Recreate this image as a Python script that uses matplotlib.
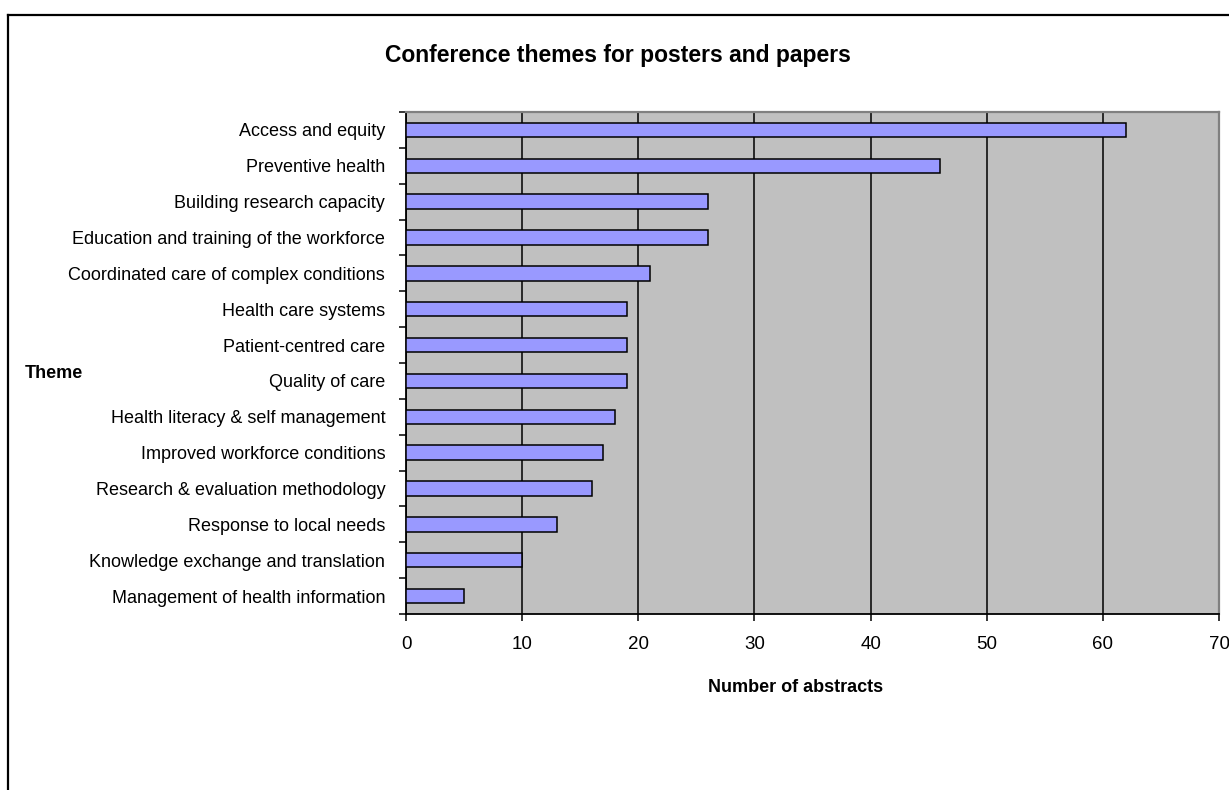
import matplotlib
matplotlib.use("Agg")
import matplotlib.pyplot as plt
from matplotlib.lines import Line2D

themes = [
    "Access and equity",
    "Preventive health",
    "Building research capacity",
    "Education and training of the workforce",
    "Coordinated care of complex conditions",
    "Health care systems",
    "Patient-centred care",
    "Quality of care",
    "Health literacy & self management",
    "Improved workforce conditions",
    "Research & evaluation methodology",
    "Response to local needs",
    "Knowledge exchange and translation",
    "Management of health information",
]
counts = [62, 46, 26, 26, 21, 19, 19, 19, 18, 17, 16, 13, 10, 5]
x_ticks = [0, 10, 20, 30, 40, 50, 60, 70]

fam = ["Liberation Sans Narrow", "Liberation Sans", "DejaVu Sans"]
plt.rcParams["font.family"] = fam

W, H = 1229, 790
fig = plt.figure(figsize=(W / 100, H / 100), dpi=100)
fig.patch.set_facecolor("white")

# plot area in pixels: x 406..1219, y 112..614
ax = fig.add_axes([406 / W, 1 - 614 / H, (1219 - 406) / W, (614 - 112) / H])
ax.set_facecolor("#C0C0C0")

n = len(themes)
ypos = [n - 0.5 - i for i in range(n)]
ax.barh(ypos, counts, height=0.4, color="#9999FF", edgecolor="black",
        linewidth=1.1, zorder=3)

ax.set_xlim(0, 70)
ax.set_ylim(0, n)
ax.set_xticks(x_ticks)
ax.set_xticklabels([str(v) for v in x_ticks], fontsize=13.5)
ax.xaxis.grid(True, color="black", linewidth=1.1, zorder=1)
ax.set_axisbelow(True)

ax.set_yticks(range(n + 1))
ax.set_yticklabels([])
ax.set_yticks(ypos, minor=True)
ax.set_yticklabels(themes, minor=True, fontsize=13)
ax.tick_params(axis="y", which="major", direction="out", length=5, width=1.1)
ax.tick_params(axis="y", which="minor", length=0, pad=15)
ax.tick_params(axis="x", direction="out", length=5, width=1.1, pad=11)

for s in ["left", "bottom"]:
    ax.spines[s].set_color("black")
    ax.spines[s].set_linewidth(1.3)
for s in ["top", "right"]:
    ax.spines[s].set_color("#808080")
    ax.spines[s].set_linewidth(1.6)

fig.text(618 / W, 1 - 62 / H, "Conference themes for posters and papers",
         ha="center", va="baseline", fontsize=16.5, fontweight="bold")
fig.text(796 / W, 1 - 692 / H, "Number of abstracts",
         ha="center", va="baseline", fontsize=13, fontweight="bold")
fig.text(25 / W, 1 - 378 / H, "Theme",
         ha="left", va="baseline", fontsize=13, fontweight="bold")

# chart area border (left and top visible)
fig.add_artist(Line2D([8 / W, 8 / W], [0, 1 - 15 / H], color="black",
                      linewidth=1.6, transform=fig.transFigure))
fig.add_artist(Line2D([8 / W, 1], [1 - 15 / H, 1 - 15 / H], color="black",
                      linewidth=1.6, transform=fig.transFigure))

fig.savefig("out.png", dpi=100)
